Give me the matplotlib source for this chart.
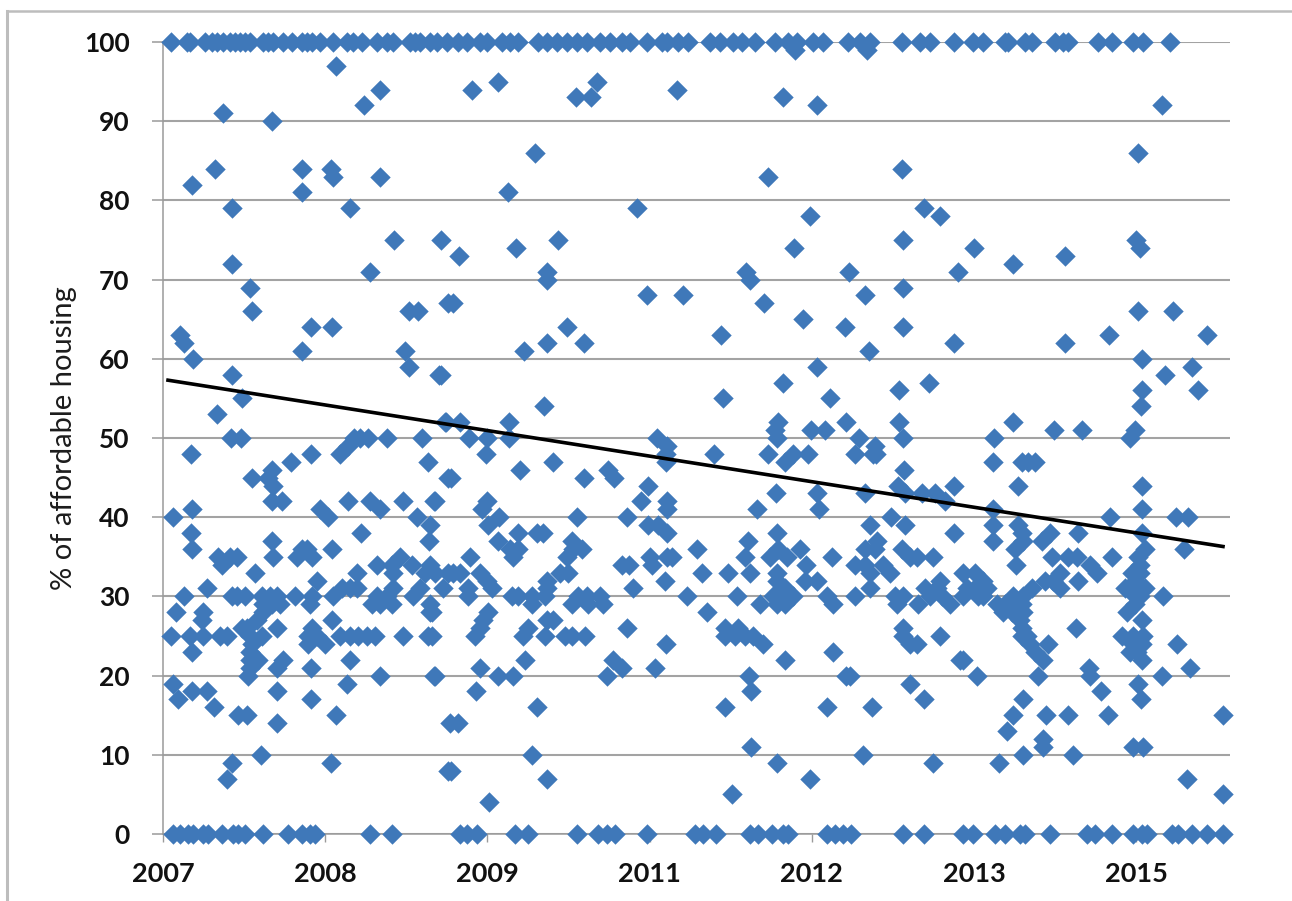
import matplotlib.pyplot as plt
from matplotlib.lines import Line2D

tick_labels = ['2007', '2008', '2009', '2011', '2012', '2013', '2015']
tick_step = 162.2
y_ticks = [0, 10, 20, 30, 40, 50, 60, 70, 80, 90, 100]

trend_x = [5, 1060]
trend_y = [57.3, 36.3]

# projects at exactly 100 % and 0 %
top_row_x = [8, 24, 27, 42, 49, 54, 60, 67, 72, 77, 82, 87, 100, 105, 110, 120, 129, 139, 144, 149, 157, 170,
             184, 190, 199, 214, 224, 230, 247, 252, 257, 267, 274, 284, 295, 304, 317, 324, 339, 347, 355,
             375, 384, 394, 404, 414, 424, 437, 447, 459, 467, 484, 499, 504, 515, 525, 547, 557, 570, 579, 592,
             612, 625, 634, 650, 660, 685, 697, 707, 739, 757, 767, 791, 810, 820, 842, 845, 862, 869,
             892, 900, 905, 935, 949, 970, 980, 1007]
near_top = [(632, 99), (704, 99)]
zero_row_x = [10, 17, 25, 30, 40, 45, 59, 70, 75, 82, 100, 125, 139, 147, 152, 207, 229,
              297, 304, 314, 352, 365, 414, 435, 444, 452, 484, 532, 540, 553, 587, 595, 609, 620, 625,
              664, 672, 680, 688, 740, 761, 800, 810, 832, 842, 857, 862, 887, 924, 932, 949,
              970, 979, 984, 1009, 1015, 1029, 1044, 1060]

points_left = [
    (173, 97), (217, 94), (201, 92), (60, 91), (109, 90), (52, 84), (139, 84), (168, 84), (29, 82), (217, 83),
    (170, 83), (139, 81), (69, 79), (187, 79), (231, 75), (69, 72), (207, 71), (87, 69), (89, 66), (246, 66),
    (255, 66), (17, 63), (21, 62), (30, 60), (148, 64), (169, 64), (139, 61), (242, 61), (246, 59), (69, 58),
    (79, 55), (54, 53), (68, 50), (78, 50), (197, 50), (205, 50), (224, 50), (259, 50), (191, 50), (185, 49),
    (177, 48), (28, 48), (128, 47), (148, 48), (265, 47), (89, 45), (109, 46), (105, 45), (110, 44),
    (109, 42), (119, 42), (185, 42), (207, 42), (240, 42), (157, 41), (217, 41), (165, 40), (29, 41), (10, 40),
    (254, 40), (267, 39), (198, 38), (28, 38), (266, 37), (109, 37), (29, 36), (169, 36), (134, 35), (139, 36),
    (144, 36), (149, 35), (110, 35), (55, 35), (74, 35), (67, 35), (59, 34), (214, 34), (237, 35), (229, 34),
    (249, 34), (267, 34), (262, 33), (92, 33), (194, 33), (230, 33), (154, 32), (230, 31), (44, 31), (179, 31),
    (187, 31), (194, 31), (257, 31), (21, 30), (69, 30), (74, 30), (82, 30), (99, 30), (107, 30), (114, 30),
    (132, 30), (149, 30), (170, 30), (250, 30), (214, 30), (224, 30), (100, 29), (109, 29), (117, 29), (147, 29),
    (209, 29), (217, 29), (229, 29), (267, 29), (13, 28), (40, 28), (267, 28), (100, 28), (39, 27), (94, 27),
    (169, 27), (79, 26), (114, 26), (149, 26), (8, 25), (27, 25), (40, 25), (57, 25), (64, 25), (87, 25),
    (99, 25), (145, 25), (154, 25), (177, 25), (187, 25), (195, 25), (204, 25), (212, 25), (240, 25), (265, 25),
    (84, 26), (145, 24), (162, 24), (89, 24), (29, 23), (87, 23), (120, 22), (87, 22), (95, 22), (187, 22),
    (114, 21), (148, 21), (87, 21), (85, 20), (217, 20), (10, 19), (184, 19), (29, 18), (44, 18), (114, 18),
    (15, 17), (148, 17), (51, 16), (75, 15), (84, 15), (173, 15), (114, 14), (98, 10), (69, 9), (168, 9), (64, 7),
]
points_mid = [
    (271, 42), (278, 75), (278, 58), (285, 67), (283, 52), (276, 58), (285, 45), (280, 31), (285, 33), (272, 33),
    (272, 42), (287, 14), (285, 8), (271, 20),
    (309, 94), (335, 95), (434, 95), (413, 93), (428, 93), (514, 94), (620, 93), (654, 92), (372, 86), (605, 83),
    (345, 81), (474, 79), (647, 78), (296, 73), (353, 74), (395, 75), (631, 74), (583, 71), (587, 70), (384, 71),
    (384, 70), (686, 71), (484, 68), (520, 68), (290, 67), (601, 67), (640, 65), (558, 63), (404, 64), (682, 64),
    (384, 62), (421, 62), (361, 61), (654, 59), (620, 57), (560, 55), (667, 55), (381, 54), (346, 52), (282, 52),
    (297, 52), (615, 52), (683, 52), (612, 51), (648, 51), (662, 51), (306, 50), (324, 50), (346, 50), (494, 50),
    (504, 49), (614, 50), (323, 48), (288, 45), (357, 46), (390, 47), (421, 45), (445, 46), (451, 45), (503, 47),
    (503, 48), (551, 48), (605, 48), (622, 47), (630, 48), (645, 48), (485, 44), (478, 42), (504, 42), (504, 41),
    (613, 43), (654, 43), (324, 42), (319, 41), (594, 41), (656, 41), (336, 40), (325, 39), (414, 40), (464, 40),
    (485, 39), (495, 39), (504, 38), (614, 38), (355, 38), (374, 38), (380, 38), (335, 37), (409, 37), (585, 37),
    (347, 36), (355, 36), (410, 36), (419, 36), (534, 36), (615, 36), (637, 36), (307, 35), (350, 35), (404, 35),
    (487, 35), (504, 35), (509, 35), (582, 35), (607, 35), (624, 35), (669, 35), (459, 34), (466, 34), (489, 34),
    (643, 34), (290, 33), (297, 33), (317, 33), (397, 33), (405, 33), (539, 33), (565, 33), (587, 33), (614, 33),
    (384, 32), (324, 32), (502, 32), (642, 32), (654, 32), (614, 32), (305, 31), (329, 31), (384, 31), (470, 31),
    (622, 31), (349, 30), (355, 30), (369, 30), (382, 30), (415, 30), (424, 30), (437, 30), (524, 30), (574, 30),
    (617, 30), (630, 30), (664, 30), (305, 30), (369, 29), (409, 29), (425, 29), (440, 29), (670, 29), (597, 29),
    (614, 29), (622, 29), (610, 30), (325, 28), (544, 28), (269, 28), (320, 27), (390, 27), (384, 27), (317, 26),
    (365, 26), (464, 26), (562, 26), (575, 26), (312, 25), (360, 25), (382, 25), (402, 25), (409, 25), (422, 25),
    (562, 25), (572, 25), (582, 25), (590, 25), (269, 25), (503, 24), (600, 24), (670, 23), (362, 22), (450, 22),
    (622, 22), (317, 21), (459, 21), (492, 21), (272, 20), (335, 20), (350, 20), (444, 20), (586, 20), (683, 20),
    (313, 18), (588, 18), (374, 16), (562, 16), (664, 16), (295, 14), (588, 11), (369, 10), (614, 9), (288, 8),
    (384, 7), (647, 7), (569, 5), (326, 4),
]
points_right = [
    (999, 92), (975, 86), (739, 84), (761, 79), (777, 78), (740, 75), (973, 75), (977, 74), (811, 74), (902, 73),
    (850, 72), (795, 71), (702, 68), (740, 69), (740, 64), (975, 66), (1010, 66), (1044, 63), (946, 63), (791, 62),
    (902, 62), (979, 60), (1029, 59), (1002, 58), (979, 56), (1035, 56), (736, 56), (766, 57), (978, 54), (736, 52),
    (850, 52), (891, 51), (919, 51), (972, 51), (740, 50), (967, 50), (831, 50), (696, 50), (712, 49), (706, 61),
    (692, 48), (713, 48), (830, 47), (859, 47), (872, 47), (865, 47), (710, 48), (979, 44), (855, 44), (741, 46),
    (735, 44), (791, 44), (759, 43), (772, 43), (742, 43), (702, 43), (782, 42), (830, 41), (979, 41), (728, 40),
    (947, 40), (1013, 40), (1025, 40), (742, 39), (707, 39), (830, 39), (855, 39), (979, 38), (791, 38), (915, 38),
    (887, 38), (859, 38), (879, 37), (830, 37), (860, 37), (714, 37), (702, 36), (712, 36), (739, 36), (852, 36),
    (982, 36), (1021, 36), (975, 35), (747, 35), (754, 35), (770, 35), (889, 35), (905, 35), (914, 35), (949, 35),
    (692, 34), (702, 34), (720, 34), (853, 34), (927, 34), (977, 34), (800, 33), (727, 33), (707, 33), (812, 33),
    (897, 33), (934, 33), (969, 33), (977, 33), (777, 32), (820, 32), (882, 32), (890, 32), (915, 32), (972, 32),
    (707, 31), (762, 31), (774, 31), (804, 31), (812, 31), (824, 31), (869, 31), (897, 31), (962, 31), (982, 31),
    (692, 30), (732, 30), (740, 30), (767, 30), (779, 30), (800, 30), (815, 30), (820, 30), (850, 30), (860, 30),
    (972, 30), (1000, 30), (977, 30), (734, 29), (755, 29), (787, 29), (834, 29), (842, 29), (850, 29), (859, 29),
    (972, 29), (840, 28), (849, 28), (860, 28), (964, 28), (857, 27), (979, 27), (740, 26), (859, 26), (913, 26),
    (740, 25), (777, 25), (859, 25), (864, 25), (959, 25), (970, 25), (980, 25), (747, 24), (754, 24), (867, 24),
    (885, 24), (1014, 24), (970, 24), (979, 24), (872, 23), (967, 23), (974, 23), (797, 22), (800, 22), (880, 22),
    (979, 22), (926, 21), (1027, 21), (814, 20), (875, 20), (927, 20), (999, 20), (687, 20), (747, 19), (975, 19),
    (938, 18), (761, 17), (860, 17), (978, 17), (709, 16), (850, 15), (883, 15), (905, 15), (945, 15), (1060, 15),
    (844, 13), (880, 12), (880, 11), (970, 11), (980, 11), (700, 10), (860, 10), (910, 10), (770, 9), (836, 9),
    (1024, 7), (1060, 5),
]

all_x = list(top_row_x) + list(zero_row_x)
all_y = [100] * len(top_row_x) + [0] * len(zero_row_x)
for px, py in near_top + points_left + points_mid + points_right:
    all_x.append(px)
    all_y.append(py)

plt.rcParams['font.family'] = ['Lato', 'DejaVu Sans']

fig = plt.figure(figsize=(12.92, 9.01), dpi=100)
ax = fig.add_axes([163 / 1292, 1 - 834 / 901, 1067 / 1292, 792 / 901])
ax.set_xlim(0, 1067)
ax.set_ylim(0, 100)

ax.scatter(all_x, all_y, marker='D', s=108, c='#3f78b9', linewidths=0, zorder=3, clip_on=False)
ax.plot(trend_x, trend_y, c='black', lw=2.6, zorder=4)

ax.set_yticks(y_ticks)
ax.set_xticks([i * tick_step for i in range(len(tick_labels))])
ax.set_xticklabels(tick_labels)
ax.tick_params(axis='y', length=8, width=1.1, color='#9a9a9a', pad=16, labelsize=19)
ax.tick_params(axis='x', length=6, width=1, color='#9a9a9a', pad=14, labelsize=19.5)
for lab in ax.get_xticklabels() + ax.get_yticklabels():
    lab.set_fontweight('bold')
    lab.set_color('#111111')

ax.grid(axis='y', color='#a3a3a3', lw=1.5, zorder=1)
ax.set_axisbelow(True)
for side in ['top', 'right']:
    ax.spines[side].set_visible(False)
for side in ['left', 'bottom']:
    ax.spines[side].set_color('#9a9a9a')
    ax.spines[side].set_linewidth(1.1)

ax.set_ylabel('% of affordable housing', fontsize=21, color='#1c1c1c')
ax.yaxis.set_label_coords(-0.081, 0.5)

# grey frame of the pasted picture
fig.add_artist(Line2D([7 / 1292, 7 / 1292], [0, 1 - 11 / 901], color='#bdbdbd', lw=2.2))
fig.add_artist(Line2D([7 / 1292, 1], [1 - 11 / 901, 1 - 11 / 901], color='#bdbdbd', lw=1.8))

fig.savefig('out.png', dpi=100)
